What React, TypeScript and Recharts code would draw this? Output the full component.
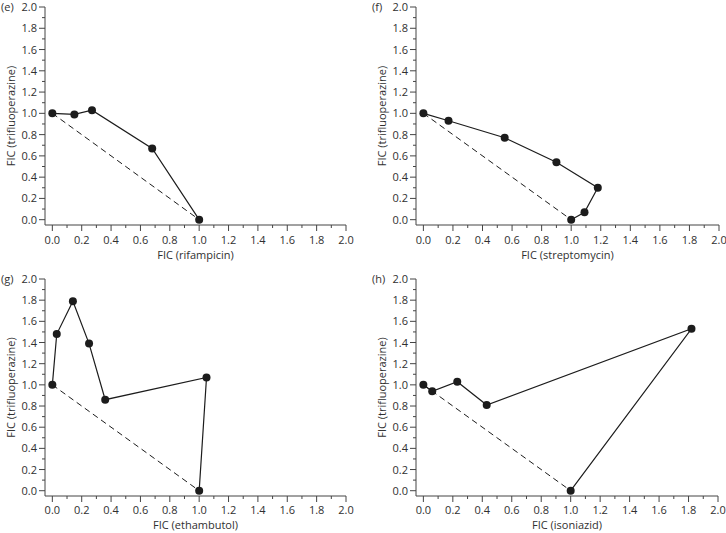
import { ScatterChart, Scatter, XAxis, YAxis, Label } from "recharts";

const TEXT = "#303030";
const AXIS = "#444444";
const INK = "#1c1c1c";
const FONT = "'Open Sans', sans-serif";

// FIC pairs (x = partner drug, y = trifluoperazine)
const RIFAMPICIN_X = [0, 0.15, 0.27, 0.68, 1.0];
const RIFAMPICIN_Y = [1.0, 0.99, 1.03, 0.67, 0];

const STREPTOMYCIN_X = [0, 0.17, 0.55, 0.9, 1.18, 1.09, 1.0];
const STREPTOMYCIN_Y = [1.0, 0.93, 0.77, 0.54, 0.3, 0.07, 0];

const ETHAMBUTOL_X = [0, 0.03, 0.14, 0.25, 0.36, 1.05, 1.0];
const ETHAMBUTOL_Y = [1.0, 1.48, 1.79, 1.39, 0.86, 1.07, 0];

const ISONIAZID_X = [0, 0.06, 0.23, 0.43, 1.82, 1.0];
const ISONIAZID_Y = [1.0, 0.94, 1.03, 0.81, 1.53, 0];

// additivity line
const ADDITIVE_X = [0, 1];
const ADDITIVE_Y = [1, 0];

const TICKS = [
  0, 0.1, 0.2, 0.3, 0.4, 0.5, 0.6, 0.7, 0.8, 0.9, 1.0, 1.1, 1.2, 1.3, 1.4,
  1.5, 1.6, 1.7, 1.8, 1.9, 2.0,
];

const Y_TITLE = "FIC (trifluoperazine)";

const toPoints = (xs: number[], ys: number[]) =>
  xs.map((x, i) => ({ x, y: ys[i] }));

const isMajor = (v: number) => Math.round(v * 10) % 2 === 0;

const makeXTick = (labelOffset: number) => (props: any) => {
  const { x, y, payload } = props;
  const major = isMajor(payload.value);
  return (
    <g>
      <line x1={x} x2={x} y1={y} y2={y + (major ? 6 : 3)} stroke={AXIS} />
      {major && (
        <text
          x={x}
          y={y + labelOffset}
          textAnchor="middle"
          fill={TEXT}
          fontSize={11}
          fontFamily={FONT}
        >
          {payload.value.toFixed(1)}
        </text>
      )}
    </g>
  );
};

const YTick = (props: any) => {
  const { x, y, payload } = props;
  const major = isMajor(payload.value);
  return (
    <g>
      <line x1={x} x2={x - (major ? 6 : 3)} y1={y} y2={y} stroke={AXIS} />
      {major && (
        <text
          x={x - 8}
          y={y + 4}
          textAnchor="end"
          fill={TEXT}
          fontSize={11}
          fontFamily={FONT}
        >
          {payload.value.toFixed(1)}
        </text>
      )}
    </g>
  );
};

const Dot = (props: any) => (
  <circle cx={props.cx} cy={props.cy} r={4} fill={INK} />
);
const NoDot = () => <g />;

interface PanelProps {
  tag: string;
  xTitle: string;
  xs: number[];
  ys: number[];
  left: number;
  top: number;
  height: number;
  topPad: number;
  xAxisHeight: number;
  tickOffset: number;
  titleOffset: number;
  yAxisWidth: number;
  rightPad: number;
}

function Panel(p: PanelProps) {
  const XTick = makeXTick(p.tickOffset);
  return (
    <div style={{ position: "absolute", left: p.left, top: p.top }}>
      <ScatterChart
        width={363}
        height={p.height}
        margin={{ top: p.topPad, right: p.rightPad, bottom: 0, left: 0 }}
      >
        <XAxis
          type="number"
          dataKey="x"
          domain={[-0.05, 2]}
          ticks={TICKS}
          interval={0}
          tickSize={0}
          tickMargin={0}
          tickLine={false}
          tick={<XTick />}
          axisLine={{ stroke: AXIS }}
          height={p.xAxisHeight}
        >
          <Label
            content={(lp: any) => {
              const vb = lp.viewBox;
              return (
                <text
                  x={vb.x + vb.width / 2}
                  y={vb.y + p.titleOffset}
                  textAnchor="middle"
                  fill={TEXT}
                  fontSize={11}
                  fontFamily={FONT}
                >
                  {p.xTitle}
                </text>
              );
            }}
          />
        </XAxis>
        <YAxis
          type="number"
          dataKey="y"
          domain={[-0.05, 2]}
          ticks={TICKS}
          interval={0}
          tickSize={0}
          tickMargin={0}
          tickLine={false}
          tick={<YTick />}
          axisLine={{ stroke: AXIS }}
          width={p.yAxisWidth}
        >
          <Label
            content={(lp: any) => {
              const vb = lp.viewBox;
              const ax = vb.x + vb.width;
              const cy = vb.y + vb.height / 2;
              return (
                <g>
                  <text
                    x={ax - 35}
                    y={cy}
                    transform={`rotate(-90, ${ax - 35}, ${cy})`}
                    textAnchor="middle"
                    dominantBaseline="central"
                    fill={TEXT}
                    fontSize={11}
                    fontFamily={FONT}
                  >
                    {Y_TITLE}
                  </text>
                  <text
                    x={ax - 44}
                    y={vb.y + 4}
                    fill={TEXT}
                    fontSize={11}
                    fontFamily={FONT}
                  >
                    {p.tag}
                  </text>
                </g>
              );
            }}
          />
        </YAxis>
        <Scatter
          data={toPoints(ADDITIVE_X, ADDITIVE_Y)}
          line={{ stroke: INK, strokeWidth: 1, strokeDasharray: "6 4" }}
          shape={<NoDot />}
          isAnimationActive={false}
        />
        <Scatter
          data={toPoints(p.xs, p.ys)}
          line={{ stroke: INK, strokeWidth: 1.2 }}
          shape={<Dot />}
          isAnimationActive={false}
        />
      </ScatterChart>
    </div>
  );
}

const TOP_ROW = {
  top: 0,
  height: 266,
  topPad: 7,
  xAxisHeight: 41,
  tickOffset: 19,
  titleOffset: 34,
};
const BOTTOM_ROW = {
  top: 268,
  height: 265,
  topPad: 11,
  xAxisHeight: 37,
  tickOffset: 18,
  titleOffset: 33,
};

export default function App() {
  return (
    <div
      style={{
        position: "absolute",
        left: 0,
        top: 0,
        width: 726,
        height: 533,
        overflow: "hidden",
        background: "#ffffff",
      }}
    >
      <Panel
        tag="(e)"
        xTitle="FIC (rifampicin)"
        xs={RIFAMPICIN_X}
        ys={RIFAMPICIN_Y}
        left={0}
        {...TOP_ROW}
        yAxisWidth={45}
        rightPad={17}
      />
      <Panel
        tag="(f)"
        xTitle="FIC (streptomycin)"
        xs={STREPTOMYCIN_X}
        ys={STREPTOMYCIN_Y}
        left={363}
        {...TOP_ROW}
        yAxisWidth={53}
        rightPad={7}
      />
      <Panel
        tag="(g)"
        xTitle="FIC (ethambutol)"
        xs={ETHAMBUTOL_X}
        ys={ETHAMBUTOL_Y}
        left={0}
        {...BOTTOM_ROW}
        yAxisWidth={45}
        rightPad={17}
      />
      <Panel
        tag="(h)"
        xTitle="FIC (isoniazid)"
        xs={ISONIAZID_X}
        ys={ISONIAZID_Y}
        left={363}
        {...BOTTOM_ROW}
        yAxisWidth={53}
        rightPad={8}
      />
    </div>
  );
}
